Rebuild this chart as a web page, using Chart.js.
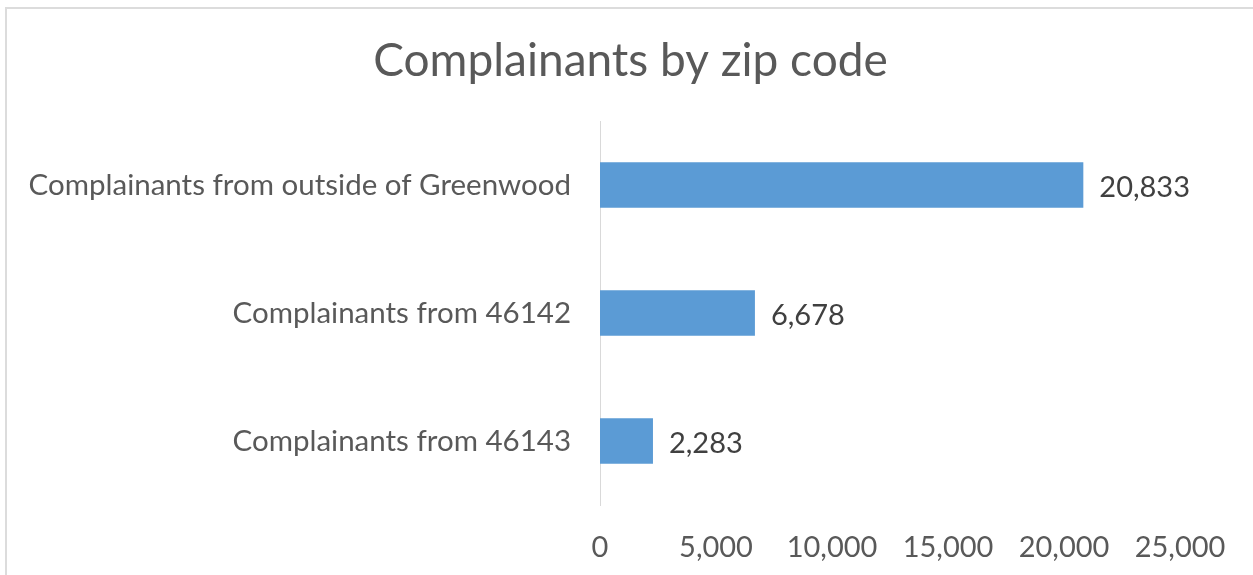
<!DOCTYPE html>
<html>
<head>
<meta charset="utf-8">
<script src="https://cdn.jsdelivr.net/npm/chart.js@4"></script>
<style>
  html, body { margin: 0; padding: 0; background: #fff; }
  #wrap { position: relative; width: 1253px; height: 575px; overflow: hidden; }
  #frame { position: absolute; left: 5px; top: 7px; width: 1400px; height: 800px; border: 2px solid #dcdcdc; box-sizing: border-box; }
  canvas { position: absolute; left: 0; top: 0; }
</style>
</head>
<body>
<div id="wrap">
  <div id="frame"></div>
  <canvas id="c" width="1253" height="575"></canvas>
</div>
<script>
const categories = [
  "Complainants from outside of Greenwood",
  "Complainants from 46142",
  "Complainants from 46143"
];
const values = [20833, 6678, 2283];
const tickValues = [0, 5000, 10000, 15000, 20000, 25000];
const chartTitle = "Complainants by zip code";

const FONT = "Lato, 'Open Sans', sans-serif";

const fmt = v => v.toLocaleString('en-US');

const dataLabels = {
  id: 'dataLabels',
  afterDatasetsDraw(chart) {
    const ctx = chart.ctx;
    const meta = chart.getDatasetMeta(0);
    ctx.save();
    ctx.font = "29px " + FONT;
    ctx.fillStyle = "#404040";
    ctx.textAlign = "left";
    ctx.textBaseline = "middle";
    meta.data.forEach((bar, i) => {
      ctx.fillText(fmt(values[i]), bar.x + 16, bar.y + 3);
    });
    ctx.restore();
  }
};

// Title centred on the whole canvas (Excel-style), not on the padded plot box
const centeredTitle = {
  id: 'centeredTitle',
  afterDraw(chart) {
    const ctx = chart.ctx;
    ctx.save();
    ctx.font = "46px " + FONT;
    ctx.fillStyle = "#595959";
    ctx.textAlign = "center";
    ctx.textBaseline = "middle";
    ctx.fillText(chartTitle, chart.width / 2 + 4, 61);
    ctx.restore();
  }
};

new Chart(document.getElementById('c'), {
  type: 'bar',
  data: {
    labels: categories,
    datasets: [{
      data: values,
      backgroundColor: '#5b9bd5',
      borderWidth: 0,
      categoryPercentage: 1,
      barPercentage: 0.355
    }]
  },
  options: {
    indexAxis: 'y',
    responsive: false,
    animation: false,
    layout: { padding: { left: 0, right: 73, top: 121, bottom: 0 } },
    plugins: {
      legend: { display: false },
      tooltip: { enabled: false },
      title: { display: false }
    },
    scales: {
      x: {
        min: 0,
        max: 25000,
        afterBuildTicks(scale) { scale.ticks = tickValues.map(v => ({ value: v })); },
        afterFit(scale) { scale.height = 70; },
        grid: { display: false, drawTicks: false },
        border: { display: false },
        ticks: {
          color: '#595959',
          padding: 25,
          maxRotation: 0,
          autoSkip: false,
          font: { family: FONT, size: 29 },
          callback: v => fmt(v)
        }
      },
      y: {
        afterFit(scale) { scale.width = 600; },
        grid: { display: false, drawTicks: false },
        border: { display: true, color: '#d9d9d9', width: 1 },
        ticks: {
          color: '#595959',
          padding: 29,
          font: { family: FONT, size: 29.5 }
        }
      }
    }
  },
  plugins: [dataLabels, centeredTitle]
});
</script>
</body>
</html>
